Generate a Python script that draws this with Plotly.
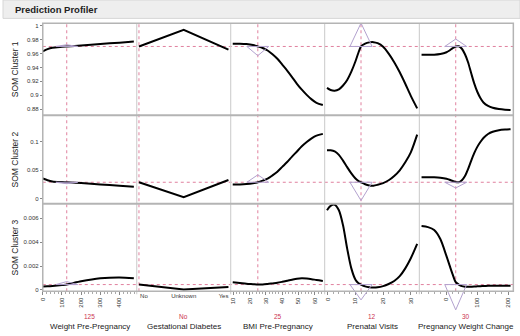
import plotly.graph_objects as go

W, H = 520, 336

# ---------------- data ----------------
factors = ["Weight Pre-Pregnancy", "Gestational Diabetes", "BMI Pre-Pregnancy",
           "Prenatal Visits", "Pregnancy Weight Change"]
responses = ["SOM Cluster 1", "SOM Cluster 2", "SOM Cluster 3"]
current_labels = ["125", "No", "25", "12", "30"]
current_x = [125, 0, 25, 12, 30]
current_y = [0.9703, 0.029, 0.00045]

gd_categories = ["No", "Unknown", "Yes"]

weight_x = [0, 25, 50, 100, 125, 200, 300, 400, 475]
weight_c1 = [0.9632, 0.9665, 0.9685, 0.9698, 0.9703, 0.9718, 0.9738, 0.9758, 0.9773]
weight_c2 = [0.0355, 0.0325, 0.0305, 0.0293, 0.0289, 0.0275, 0.0252, 0.0228, 0.0210]
weight_c3 = [0.00028, 0.00030, 0.00033, 0.00041, 0.00045, 0.00072, 0.00097, 0.00105, 0.00097]

gd_c1 = [0.9703, 0.9944, 0.9657]
gd_c2 = [0.029, 0.003, 0.033]
gd_c3 = [0.00045, 0.00003, 0.00025]

bmi_x = [9.6, 14, 18, 22, 25, 28, 31, 34, 37, 40, 43, 46, 49, 52, 55, 58, 61, 64.9]
bmi_c1 = [0.9742, 0.9742, 0.9737, 0.9723, 0.9703, 0.9680, 0.9645, 0.9590, 0.9525, 0.9440,
          0.9355, 0.9262, 0.9165, 0.9080, 0.9005, 0.8940, 0.8890, 0.8858]
bmi_c2 = [0.0252, 0.0252, 0.0258, 0.0272, 0.0290, 0.0318, 0.0352, 0.0410, 0.0475, 0.0560,
          0.0645, 0.0740, 0.0830, 0.0920, 0.0995, 0.1060, 0.1108, 0.1138]
bmi_c3 = [0.00064, 0.00058, 0.00052, 0.00048, 0.00045, 0.00046, 0.00050, 0.00055, 0.00060,
          0.00068, 0.00077, 0.00086, 0.00094, 0.00097, 0.00095, 0.00090, 0.00083, 0.00075]

pv_x = [-0.3, 1, 2.5, 4, 5.5, 7, 8.5, 10, 11, 12, 13.5, 15, 16.5, 18, 20, 22, 24, 26, 28, 30, 32.3]
pv_c1 = [0.9105, 0.9075, 0.9065, 0.9085, 0.9140, 0.9220, 0.9340, 0.9490, 0.9605, 0.9703, 0.9745,
         0.9762, 0.9765, 0.9750, 0.9700, 0.9600, 0.9475, 0.9330, 0.9165, 0.8990, 0.8810]
pv_c2 = [0.0852, 0.0850, 0.0830, 0.0770, 0.0670, 0.0555, 0.0445, 0.0355, 0.0315, 0.0290, 0.0255,
         0.0235, 0.0230, 0.0245, 0.0275, 0.0325, 0.0400, 0.0500, 0.0640, 0.0815, 0.1125]
pv_c3 = [0.00665, 0.00702, 0.00712, 0.00665, 0.00540, 0.00345, 0.00180, 0.00085, 0.00058, 0.00045,
         0.00030, 0.00023, 0.00020, 0.00022, 0.00032, 0.00050, 0.00075, 0.00115, 0.00180, 0.00265,
         0.00385]

pwc_x = [-81, -60, -40, -20, 0, 10, 20, 30, 40, 50, 60, 70, 80, 90, 100, 110, 120, 135, 150, 170, 190, 208]
pwc_c1 = [0.9583, 0.9583, 0.9585, 0.9595, 0.9620, 0.9645, 0.9678, 0.9703, 0.9705, 0.9670, 0.9590,
          0.9475, 0.9320, 0.9170, 0.9050, 0.8960, 0.8895, 0.8845, 0.8818, 0.8800, 0.8790, 0.8786]
pwc_c2 = [0.0378, 0.0378, 0.0376, 0.0368, 0.0350, 0.0333, 0.0312, 0.0293, 0.0290, 0.0325, 0.0400,
          0.0520, 0.0665, 0.0800, 0.0910, 0.0995, 0.1065, 0.1135, 0.1175, 0.1203, 0.1215, 0.1220]
pwc_c3 = [0.00534, 0.00525, 0.00500, 0.00425, 0.00282, 0.00205, 0.00130, 0.00065, 0.00045, 0.00032,
          0.00027, 0.00026, 0.00027, 0.00028, 0.00030, 0.00032, 0.00033, 0.00035, 0.00036, 0.00036,
          0.00036, 0.00036]

# triangle (interval) markers: (row, col, apex value)
tri_row = [0, 0, 0, 0, 1, 1, 1, 1, 2, 2, 2]
tri_col = [0, 2, 3, 4, 0, 2, 3, 4, 0, 3, 4]
tri_apex = [0.9728, 0.957, 1.004, 0.981, 0.0265, 0.042, -0.003, 0.019, 0.0007, -0.00083, -0.00166]
tri_halfwidth = [57, 6.7, 4.0, 35.5]  # for numeric columns 0, 2, 3, 4

# ---------------- geometry ----------------
col_edges = [40, 134.5, 229, 323.5, 418.8, 513.3]
row_edges = [23.3, 116, 205, 293]
x_ranges = [[0, 490], [-0.05, 2.05], [8.35, 66.0], [-1.15, 33.1], [-88, 217]]
y_ranges = [[0.871, 1.0039], [-0.0087, 0.1463], [-0.000108, 0.007195]]

FONT = "Liberation Sans, Arial, sans-serif"
RED = "#cc3350"
REFLINE = "#e0809e"
TRI = "#b3a2cf"

def px_x(p):
    return p / W

def px_y(p):
    return 1 - p / H

fig = go.Figure()

curves_x = [weight_x, [0, 1, 2], bmi_x, pv_x, pwc_x]
curves_y = [
    [weight_c1, gd_c1, bmi_c1, pv_c1, pwc_c1],
    [weight_c2, gd_c2, bmi_c2, pv_c2, pwc_c2],
    [weight_c3, gd_c3, bmi_c3, pv_c3, pwc_c3],
]

def ax_name(kind, i):
    return kind if i == 1 else f"{kind}{i}"

for r in range(3):
    for c in range(5):
        fig.add_trace(go.Scatter(
            x=curves_x[c], y=curves_y[r][c], mode="lines",
            line=dict(color="black", width=2, shape="linear" if c == 1 else "spline", smoothing=0.8),
            xaxis=ax_name("x", c + 1), yaxis=ax_name("y", r + 1),
            showlegend=False, hoverinfo="skip"))

layout = dict(
    width=W, height=H, margin=dict(l=0, r=0, t=0, b=0), autosize=False,
    paper_bgcolor="white", plot_bgcolor="rgba(0,0,0,0)",
    font=dict(family=FONT, size=6, color="#333"),
    showlegend=False,
)

minor_dticks = [20, None, 2, 2, 20]
dticks = [100, None, 10, 10, 100]
for c in range(5):
    dom = [px_x(col_edges[c]), px_x(col_edges[c + 1])]
    ax = dict(domain=dom, range=x_ranges[c], anchor="y3", showgrid=False, zeroline=False,
              showline=False, fixedrange=True, tickfont=dict(size=6, color="#333"))
    if c == 1:
        ax.update(tickmode="array", tickvals=[0.11, 1, 1.89], ticktext=gd_categories,
                  ticks="", tickangle=0)
    else:
        ax.update(tickmode="linear", tick0=0, dtick=dticks[c], ticks="outside", ticklen=3,
                  tickcolor="#888", tickwidth=1, tickangle=-90,
                  minor=dict(dtick=minor_dticks[c], tick0=0, ticks="outside", ticklen=1.5,
                             tickcolor="#aaa", showgrid=False))
    layout[ax_name("xaxis", c + 1)] = ax

ydticks = [0.02, 0.05, 0.002]
for r in range(3):
    dom = [px_y(row_edges[r + 1]), px_y(row_edges[r])]
    layout[ax_name("yaxis", r + 1)] = dict(
        domain=dom, range=y_ranges[r], anchor="x", showgrid=False, zeroline=False,
        showline=False, fixedrange=True, tickmode="linear", tick0=0, dtick=ydticks[r],
        ticks="outside", ticklen=2, tickcolor="#888", tickfont=dict(size=6, color="#333"))

# ghost axes spanning the whole page, with identical scale, so interval triangles are not clipped
def extend(rng, dom):
    s = (rng[1] - rng[0]) / (dom[1] - dom[0])
    return [rng[0] - dom[0] * s, rng[1] + (1 - dom[1]) * s]

for c in range(5):
    dom = layout[ax_name("xaxis", c + 1)]["domain"]
    layout[ax_name("xaxis", c + 6)] = dict(domain=[0, 1], range=extend(x_ranges[c], dom),
                                           visible=False, fixedrange=True, anchor="free", position=0)
for r in range(3):
    dom = layout[ax_name("yaxis", r + 1)]["domain"]
    layout[ax_name("yaxis", r + 4)] = dict(domain=[0, 1], range=extend(y_ranges[r], dom),
                                           visible=False, fixedrange=True, anchor="free", position=0)

hw_by_col = {0: tri_halfwidth[0], 2: tri_halfwidth[1], 3: tri_halfwidth[2], 4: tri_halfwidth[3]}
for r, c, apex in zip(tri_row, tri_col, tri_apex):
    cx = current_x[c]
    hw = hw_by_col[c]
    base = current_y[r]
    fig.add_trace(go.Scatter(
        x=[cx - hw, cx + hw, cx, cx - hw], y=[base, base, apex, base], mode="lines",
        line=dict(color=TRI, width=1), xaxis=ax_name("x", c + 6), yaxis=ax_name("y", r + 4),
        showlegend=False, hoverinfo="skip"))

shapes = []
# title bar
shapes.append(dict(type="rect", xref="paper", yref="paper", x0=0, x1=1, y0=px_y(18.5), y1=1,
                   fillcolor="#eeeeee", line=dict(color="#d6d6d6", width=1), layer="below"))
# reference lines (current settings)
for c in range(5):
    shapes.append(dict(type="line", xref=ax_name("x", c + 1), yref="paper",
                       x0=current_x[c], x1=current_x[c], y0=px_y(row_edges[3]), y1=px_y(row_edges[0]),
                       line=dict(color=REFLINE, width=1, dash="dot"), layer="below"))
for r in range(3):
    shapes.append(dict(type="line", xref="paper", yref=ax_name("y", r + 1),
                       x0=px_x(col_edges[0]), x1=px_x(col_edges[5]), y0=current_y[r], y1=current_y[r],
                       line=dict(color=REFLINE, width=1, dash="dot"), layer="below"))
# column separators
for c in range(1, 5):
    shapes.append(dict(type="line", xref="paper", yref="paper",
                       x0=px_x(col_edges[c]), x1=px_x(col_edges[c]),
                       y0=px_y(row_edges[3] + 3), y1=px_y(row_edges[0]),
                       line=dict(color="#d2d2d2", width=1.2)))
# row separators
for r in range(1, 3):
    shapes.append(dict(type="line", xref="paper", yref="paper",
                       x0=px_x(col_edges[0]), x1=px_x(col_edges[5]),
                       y0=px_y(row_edges[r]), y1=px_y(row_edges[r]),
                       line=dict(color="#b4b4b4", width=2)))
# outer frame
shapes.append(dict(type="rect", xref="paper", yref="paper",
                   x0=px_x(col_edges[0]), x1=px_x(col_edges[5]),
                   y0=px_y(row_edges[3]), y1=px_y(row_edges[0]),
                   line=dict(color="#b4b4b4", width=1.5)))
layout["shapes"] = shapes

annotations = []
annotations.append(dict(text="<b>Prediction Profiler</b>", xref="paper", yref="paper",
                        x=px_x(10), y=px_y(9.5), xanchor="left", yanchor="middle", showarrow=False,
                        font=dict(size=9.5, color="#222", family=FONT)))
for r in range(3):
    annotations.append(dict(text=responses[r], xref="paper", yref="paper", x=px_x(12),
                            y=px_y((row_edges[r] + row_edges[r + 1]) / 2), textangle=-90,
                            xanchor="center", yanchor="middle", showarrow=False,
                            font=dict(size=8.5, color="#222", family=FONT)))
for c in range(5):
    xc = px_x((col_edges[c] + col_edges[c + 1]) / 2)
    annotations.append(dict(text=current_labels[c], xref="paper", yref="paper", x=xc, y=px_y(318),
                            xanchor="center", yanchor="middle", showarrow=False,
                            font=dict(size=6.5, color=RED, family=FONT)))
    annotations.append(dict(text=factors[c], xref="paper", yref="paper", x=xc, y=px_y(328.5),
                            xanchor="center", yanchor="middle", showarrow=False,
                            font=dict(size=8, color="#222", family=FONT)))
layout["annotations"] = annotations

fig.update_layout(**layout)
fig.write_html("out.html", config={"displayModeBar": False, "staticPlot": True},
               post_script="document.body.style.margin='0';document.body.style.overflow='hidden';")
